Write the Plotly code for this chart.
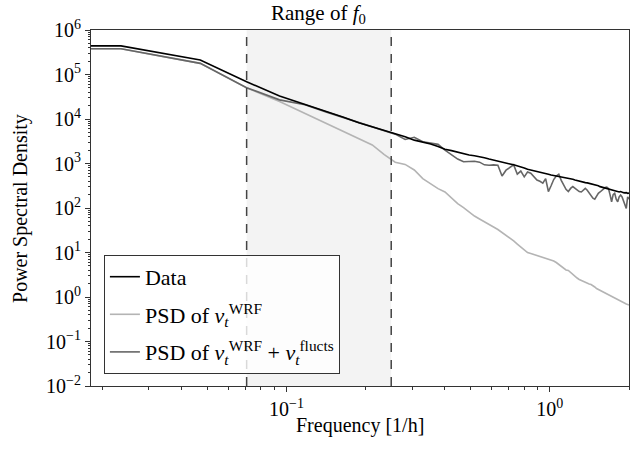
import numpy as np
import plotly.graph_objects as go

# frequency grid [1/h]: lowest shown frequency, then k * df
F_MIN = 0.0181
DF = 0.02353
freq = [F_MIN] + [DF * k for k in range(1, 86)]

# PSD values, stored as log10 exponents
data_log = [5.643, 5.643, 5.326, 4.838, 4.517, 4.33, 4.164, 4.038, 3.917, 3.827, 3.737,
            3.665, 3.60, 3.525, 3.48, 3.44, 3.38, 3.32, 3.29, 3.25, 3.215,
            3.19, 3.175, 3.155, 3.13, 3.10, 3.08, 3.06, 3.03, 3.01, 2.99,
            2.97, 2.95, 2.92, 2.90, 2.87, 2.855, 2.84, 2.82, 2.80, 2.79,
            2.78, 2.76, 2.74, 2.73, 2.72, 2.71, 2.70, 2.69, 2.685, 2.675,
            2.66, 2.645, 2.63, 2.615, 2.60, 2.59, 2.58, 2.57, 2.565, 2.555,
            2.55, 2.54, 2.52, 2.51, 2.50, 2.48, 2.47, 2.46, 2.45, 2.44,
            2.43, 2.415, 2.41, 2.40, 2.385, 2.375, 2.37, 2.36, 2.37, 2.35,
            2.345, 2.34, 2.345, 2.33, 2.335]

wrf_log = [5.58, 5.58, 5.25, 4.70, 4.393, 4.124, 3.91, 3.726, 3.562, 3.416, 3.20,
           3.03, 2.98, 2.854, 2.66, 2.54, 2.436, 2.36, 2.225, 2.10, 2.01,
           1.91, 1.82, 1.753, 1.685, 1.63, 1.573, 1.517, 1.45, 1.393, 1.326,
           1.26, 1.19, 1.124, 1.056, 1.0, 0.978, 0.955, 0.93, 0.915, 0.9,
           0.883, 0.863, 0.836, 0.81, 0.775, 0.73, 0.685, 0.64, 0.607, 0.596,
           0.55, 0.494, 0.45, 0.427, 0.393, 0.37, 0.36, 0.326, 0.315, 0.29,
           0.28, 0.258, 0.225, 0.19, 0.169, 0.135, 0.112, 0.10, 0.079, 0.056,
           0.045, 0.022, 0.0, -0.022, -0.04, -0.056, -0.074, -0.09, -0.1, -0.117,
           -0.13, -0.144, -0.157, -0.168, -0.18]

fluct_log = [5.58, 5.58, 5.25, 4.703, 4.43, 4.32, 4.16, 4.035, 3.91, 3.82, 3.73,
             3.66, 3.54, 3.59, 3.49, 3.46, 3.43, 3.30, 3.20, 3.10, 3.04,
             3.04, 3.05, 3.03, 2.97, 2.96, 2.97, 2.96, 2.72, 2.85, 2.92,
             2.97, 2.76, 2.83, 2.70, 2.81, 2.78, 2.70, 2.63, 2.60, 2.56,
             2.66, 2.37, 2.50, 2.64, 2.72, 2.76, 2.62, 2.50, 2.42, 2.37,
             2.44, 2.48, 2.44, 2.40, 2.37, 2.36, 2.40, 2.44, 2.40, 2.33,
             2.27, 2.22, 2.20, 2.27, 2.33, 2.36, 2.40, 2.43, 2.46, 2.47,
             2.44, 2.30, 2.14, 2.30, 2.33, 2.20, 2.14, 2.25, 2.29, 2.25,
             2.15, 2.05, 1.99, 2.25, 2.20]

f0_range = [0.0706, 0.25]

x_ticks = [0.1, 1]
x_ticktext = ["10<sup>\u22121</sup>", "10<sup>0</sup>"]
y_ticks = [1e-2, 1e-1, 1, 1e1, 1e2, 1e3, 1e4, 1e5, 1e6]
y_ticktext = ["10<sup>\u22122</sup>", "10<sup>\u22121</sup>", "10<sup>0</sup>",
              "10<sup>1</sup>", "10<sup>2</sup>", "10<sup>3</sup>",
              "10<sup>4</sup>", "10<sup>5</sup>", "10<sup>6</sup>"]

FONT = "Liberation Serif"

fig = go.Figure()

fig.add_vrect(x0=f0_range[0], x1=f0_range[1], fillcolor="#f3f3f3",
              line_width=0, layer="below")
for f in f0_range:
    fig.add_vline(x=f, line=dict(color="#444444", width=1.5, dash="9px,8px"))

# drawn light -> dark -> black, legend ranked Data first
traces = [
    ("PSD of <i>v</i><sub><i>t</i></sub><sup>WRF</sup>", wrf_log, "#b4b4b4", 2),
    ("PSD of <i>v</i><sub><i>t</i></sub><sup>WRF</sup> + <i>v</i><sub><i>t</i></sub><sup>flucts</sup>",
     fluct_log, "#666666", 3),
    ("Data", data_log, "#000000", 1),
]
for name, vals, col, rank in traces:
    fig.add_trace(go.Scatter(x=freq, y=10 ** np.array(vals), mode="lines",
                             name=name, legendrank=rank, legendgroup=str(rank),
                             line=dict(color=col, width=1.6)))

fig.add_annotation(x=np.log10(np.sqrt(f0_range[0] * f0_range[1])), y=1.0,
                   xref="x", yref="paper", yanchor="bottom", yshift=1,
                   text="Range of <i>f</i><sub>0</sub>", showarrow=False,
                   font=dict(size=21, family=FONT, color="black"))
fig.add_annotation(x=0.5, y=-0.112, xref="paper", yref="paper",
                   xanchor="center", yanchor="middle",
                   text="Frequency [1/h]", showarrow=False,
                   font=dict(size=20, family=FONT, color="black"))
fig.add_annotation(x=-0.132, y=0.5, xref="paper", yref="paper", textangle=-90,
                   xanchor="center", yanchor="middle",
                   text="Power Spectral Density", showarrow=False,
                   font=dict(size=20, family=FONT, color="black"))

axis_style = dict(type="log", showgrid=False, zeroline=False, showline=True,
                  linecolor="#333333", linewidth=1, mirror=True, automargin=False,
                  ticks="outside", ticklen=5, tickcolor="#333333",
                  tickfont=dict(size=20, family=FONT, color="black"),
                  minor=dict(ticks="outside", ticklen=2.5, dtick="D1",
                             tickcolor="#333333", showgrid=False))

fig.update_layout(
    width=639, height=450,
    margin=dict(l=91, r=10, t=30, b=64),
    paper_bgcolor="white", plot_bgcolor="white",
    font=dict(family=FONT, size=20, color="black"),
    showlegend=True,
    legend=dict(x=0.024, y=0.034, xanchor="left", yanchor="bottom",
                bgcolor="rgba(255,255,255,0.8)", bordercolor="#333333",
                borderwidth=1, traceorder="grouped", tracegroupgap=6,
                font=dict(size=22, family=FONT)),
    xaxis=dict(axis_style, range=[np.log10(F_MIN), np.log10(2.0)],
               tickvals=x_ticks, ticktext=x_ticktext),
    yaxis=dict(axis_style, range=[-2, 6],
               tickvals=y_ticks, ticktext=y_ticktext),
)

# drop the browser's default body margin so the figure sits at the page corner
fig.write_html("out.html", config={"displayModeBar": False},
               post_script="document.body.style.margin = '0';")
